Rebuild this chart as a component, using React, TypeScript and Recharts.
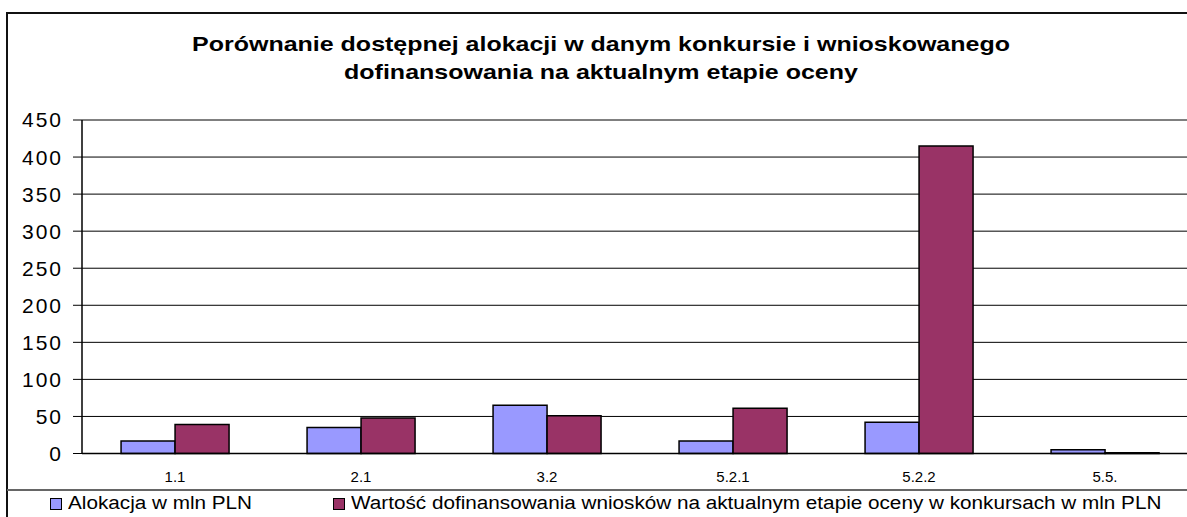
import { Bar, BarChart, CartesianGrid, XAxis, YAxis } from "recharts"

const categories = ["1.1", "2.1", "3.2", "5.2.1", "5.2.2", "5.5."]
const allocation = [17, 35, 65, 17, 42, 5]
const requested = [39, 48, 51, 61, 415, 1]
const yTicks = [0, 50, 100, 150, 200, 250, 300, 350, 400, 450]
const edgeTicks = [0, 1, 2, 3, 4, 5, 6]

const seriesNames = [
    "Alokacja w mln PLN",
    "Wartość dofinansowania wniosków na aktualnym etapie oceny w konkursach w mln PLN",
]
const colors = ["#9999FF", "#993366"]

const titleLines = [
    "Porównanie dostępnej alokacji w danym konkursie i wnioskowanego",
    "dofinansowania na aktualnym etapie oceny",
]

const data = categories.map((name, i) => ({
    name,
    alokacja: allocation[i],
    wartosc: requested[i],
}))

const font = "'Liberation Sans', Arial, sans-serif"

export default function App() {
    return (
        <div
            style={{
                position: "absolute",
                left: 0,
                top: 0,
                width: 1187,
                height: 517,
                overflow: "hidden",
                background: "#fff",
                fontFamily: font,
            }}
        >
            {/* outer frame */}
            <div
                style={{
                    position: "absolute",
                    left: 6,
                    top: 12,
                    width: 1220,
                    height: 520,
                    borderLeft: "2px solid #111",
                    borderTop: "2px solid #111",
                }}
            />
            {/* legend separator */}
            <div
                style={{
                    position: "absolute",
                    left: 7,
                    top: 489,
                    width: 1200,
                    height: 0,
                    borderTop: "2px solid #666",
                }}
            />
            <div
                style={{
                    position: "absolute",
                    left: 7,
                    top: 30,
                    width: 1188,
                    textAlign: "center",
                    fontWeight: "bold",
                    fontSize: 21,
                    lineHeight: "28px",
                    color: "#000",
                    transform: "scaleX(1.19)",
                    transformOrigin: "594px 0",
                }}
            >
                {titleLines.map((t) => (
                    <div key={t}>{t}</div>
                ))}
            </div>

            <div style={{ position: "absolute", left: 0, top: 0 }}>
                <BarChart
                    width={1230}
                    height={517}
                    data={data}
                    margin={{ top: 120, right: 32, bottom: 33.5, left: 0 }}
                    barGap={0}
                    barCategoryGap="21%"
                >
                    <CartesianGrid vertical={false} stroke="#000" strokeWidth={1} />
                    <XAxis
                        xAxisId="edges"
                        type="number"
                        domain={[0, 6]}
                        ticks={edgeTicks}
                        tick={false}
                        axisLine={false}
                        tickSize={5}
                        tickLine={{ stroke: "#000" }}
                        height={0}
                    />
                    <XAxis
                        dataKey="name"
                        height={30}
                        tickLine={false}
                        axisLine={{ stroke: "#000", strokeWidth: 1.5 }}
                        tickMargin={12}
                        tick={{ fill: "#000", fontSize: 15, fontFamily: font }}
                        interval={0}
                    />
                    <YAxis
                        width={82}
                        domain={[0, 450]}
                        ticks={yTicks}
                        interval={0}
                        tickSize={9}
                        tickMargin={10}
                        axisLine={{ stroke: "#000", strokeWidth: 1.5 }}
                        tickLine={{ stroke: "#000" }}
                        tick={{ fill: "#000", fontSize: 21, fontFamily: font, letterSpacing: 2 }}
                    />
                    <Bar
                        dataKey="alokacja"
                        name={seriesNames[0]}
                        fill={colors[0]}
                        stroke="#000"
                        strokeWidth={1.5}
                        isAnimationActive={false}
                    />
                    <Bar
                        dataKey="wartosc"
                        name={seriesNames[1]}
                        fill={colors[1]}
                        stroke="#000"
                        strokeWidth={1.5}
                        isAnimationActive={false}
                    />
                </BarChart>
            </div>

            {/* legend */}
            <div
                style={{
                    position: "absolute",
                    top: 492,
                    left: 0,
                    width: 1187,
                    height: 24,
                    fontSize: 18,
                    color: "#000",
                }}
            >
                {seriesNames.map((name, i) => (
                    <div
                        key={name}
                        style={{
                            position: "absolute",
                            left: i === 0 ? 50 : 333,
                            top: 0,
                            display: "flex",
                            alignItems: "center",
                            whiteSpace: "nowrap",
                            lineHeight: "22px",
                        }}
                    >
                        <span
                            style={{
                                display: "inline-block",
                                width: 10,
                                height: 10,
                                background: colors[i],
                                border: "1px solid #000",
                                marginRight: 6,
                                marginTop: 2,
                            }}
                        />
                        <span
                            style={{
                                display: "inline-block",
                                transform: "scaleX(1.15)",
                                transformOrigin: "0 0",
                            }}
                        >
                            {name}
                        </span>
                    </div>
                ))}
            </div>
        </div>
    )
}
